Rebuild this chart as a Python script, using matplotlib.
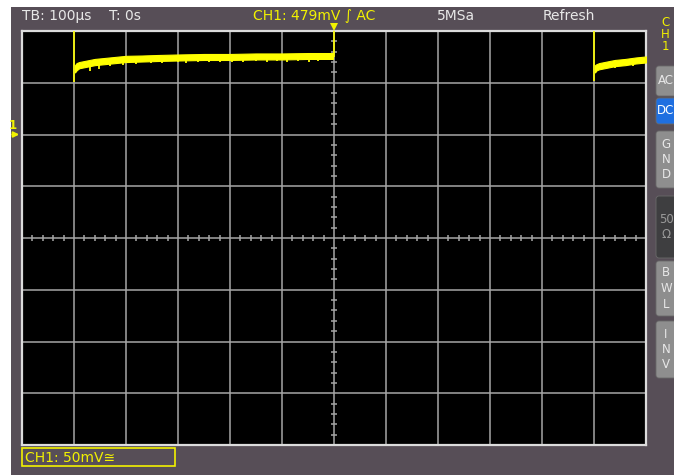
import matplotlib
matplotlib.use("Agg")
import matplotlib.pyplot as plt
import matplotlib.transforms as mtransforms
from matplotlib.patches import Rectangle, FancyBboxPatch

# Oscilloscope screen: time in us, amplitude in mV (100 us/div, 50 mV/div)
t_div = 100
v_div = 50

# low segment after the falling edge at -500 us (band envelope)
seg1_t = [-498, -495, -490, -480, -460, -440, -420, -400, -370, -340, -300, -250, -200, -150, -100, -50, -2]
seg1_hi = [167, 169, 170, 171, 173, 174, 175, 176, 176.3, 176.8, 177.3, 177.8, 177.8, 178.3, 178.3, 178.7, 178.7]
seg1_lo = [160, 162, 164, 165, 167, 168, 169, 170, 170.5, 171, 171.5, 172, 172, 172.5, 172.5, 173, 173]

# second low segment after the edge at +500 us
seg2_t = [502, 505, 510, 520, 540, 560, 580, 600]
seg2_hi = [167, 168, 169, 170, 172, 173, 174.4, 175.4]
seg2_lo = [160, 162, 163, 164, 166, 167, 168.6, 169.6]

# noise spikes below the band
spike_t = [-470, -452, -430, -405, -380, -352, -330, -300, -285, -262, -240, -220,
           -196, -175, -150, -128, -110, -90, -70, -48, -30, 540, 575]
spike_lo = [161, 163, 166, 167, 168, 169, 169, 170, 169.5, 170, 170, 170,
            170, 170, 171, 170, 171, 170, 171, 170, 171, 164, 166]

# vertical edges (bottom end in mV, top is off screen)
edge_t = [-500, 0, 500]
edge_lo = [151, 175, 152]

ground_mv = 100
trigger_t = 0
top_texts = [("TB: 100\u00b5s", 22, "#e8e8e8"), ("T: 0s", 109, "#e8e8e8"),
             ("CH1: 479mV \u222b AC", 253, "#f2f200"), ("5MSa", 437, "#e8e8e8"),
             ("Refresh", 543, "#e8e8e8")]
buttons = [("AC", 66, 96, "#8e8e8e"), ("DC", 98, 124, "#1f6fe0"), ("G\nN\nD", 131, 188, "#8e8e8e"),
           ("50\n\u03a9", 196, 258, "#3e3e40"), ("B\nW\nL", 261, 316, "#8e8e8e"),
           ("I\nN\nV", 321, 378, "#8e8e8e")]

W, H = 674, 475
fig = plt.figure(figsize=(W / 100, H / 100), dpi=100, facecolor="white")

# chrome in pixel coordinates
bg = fig.add_axes([0, 0, 1, 1], zorder=0)
bg.set_xlim(0, W)
bg.set_ylim(H, 0)
bg.axis("off")
panel = "#574e57"
bg.add_patch(Rectangle((11, 7), W - 11, H - 7, color=panel, lw=0))

for txt, x, col in top_texts:
    bg.text(x, 16, txt, color=col, fontsize=10, va="center", ha="left")
for i, ch in enumerate("CH1"):
    bg.text(665, 23 + 12 * i, ch, color="#f2f200", fontsize=8.5, ha="center", va="center")

for label, y0, y1, col in buttons:
    bg.add_patch(FancyBboxPatch((656, y0), 30, y1 - y0, boxstyle="round,pad=0,rounding_size=3",
                                fc=col, ec="#6a6a6a", lw=0.6))
    tc = "white" if label == "DC" else ("#9a9a9a" if label.startswith("50") else "#e8e8e8")
    bg.text(666, (y0 + y1) / 2, label, color=tc, fontsize=8.5, ha="center", va="center",
            linespacing=1.25)

bg.add_patch(Rectangle((22, 448), 153, 18, fc=panel, ec="#f2f200", lw=1.2))
bg.text(25, 457.5, "CH1: 50mV\u2245", color="#f2f200", fontsize=10, va="center", ha="left")

# scope screen
ax = fig.add_axes([22 / W, (H - 445) / H, 624 / W, 414 / H], zorder=2)
ax.set_facecolor("black")
ax.set_xlim(-6 * t_div, 6 * t_div)
ax.set_ylim(-4 * v_div, 4 * v_div)
ax.set_xticks([])
ax.set_yticks([])
for s in ax.spines.values():
    s.set_color("#dcdcdc")
    s.set_linewidth(1.6)

grid_col = "#a6a6a6"
for k in range(-5, 6):
    ax.axvline(k * t_div, color=grid_col, lw=1.1, zorder=1)
for k in range(-3, 4):
    ax.axhline(k * v_div, color=grid_col, lw=1.1, zorder=1)

# minor ticks on the centre axes
minor_t = [k * t_div / 5 for k in range(-30, 31) if k % 5]
minor_v = [k * v_div / 5 for k in range(-20, 21) if k % 5]
ax.plot(minor_t, [0] * len(minor_t), ls="none", marker="|", ms=4, mew=1.1, color=grid_col, zorder=1)
ax.plot([0] * len(minor_v), minor_v, ls="none", marker="_", ms=4.5, mew=1.1, color=grid_col, zorder=1)

# trace
yel = "#ffff00"
ax.fill_between(seg1_t, seg1_lo, seg1_hi, color=yel, lw=0.8, zorder=3)
ax.fill_between(seg2_t, seg2_lo, seg2_hi, color=yel, lw=0.8, zorder=3)
ax.vlines(spike_t, spike_lo, [l + 6 for l in spike_lo], color=yel, lw=1.3, zorder=3)
ax.vlines(edge_t, edge_lo, [5 * v_div] * len(edge_t), color=yel, lw=1.2, zorder=3)

# trigger position marker (just above the screen) and ground marker
trig_tf = mtransforms.offset_copy(ax.get_xaxis_transform(), fig=fig, y=4, units="dots")
ax.plot([trigger_t], [1.0], marker="v", ms=5.5, mew=0, color="#f2f200", transform=trig_tf,
        clip_on=False, zorder=5)
ax.annotate("", xy=(0, ground_mv), xycoords=("axes fraction", "data"),
            xytext=(-9, 0), textcoords="offset points",
            arrowprops=dict(arrowstyle="-|>", color="#f2f200", lw=1.4, mutation_scale=8),
            annotation_clip=False)
ax.annotate("1", xy=(0, ground_mv), xycoords=("axes fraction", "data"),
            xytext=(-6.5, 2), textcoords="offset points", color="#f2f200", fontsize=8.5,
            fontweight="bold", ha="center", va="bottom", annotation_clip=False)

fig.savefig("out.png", dpi=100, facecolor="white")
